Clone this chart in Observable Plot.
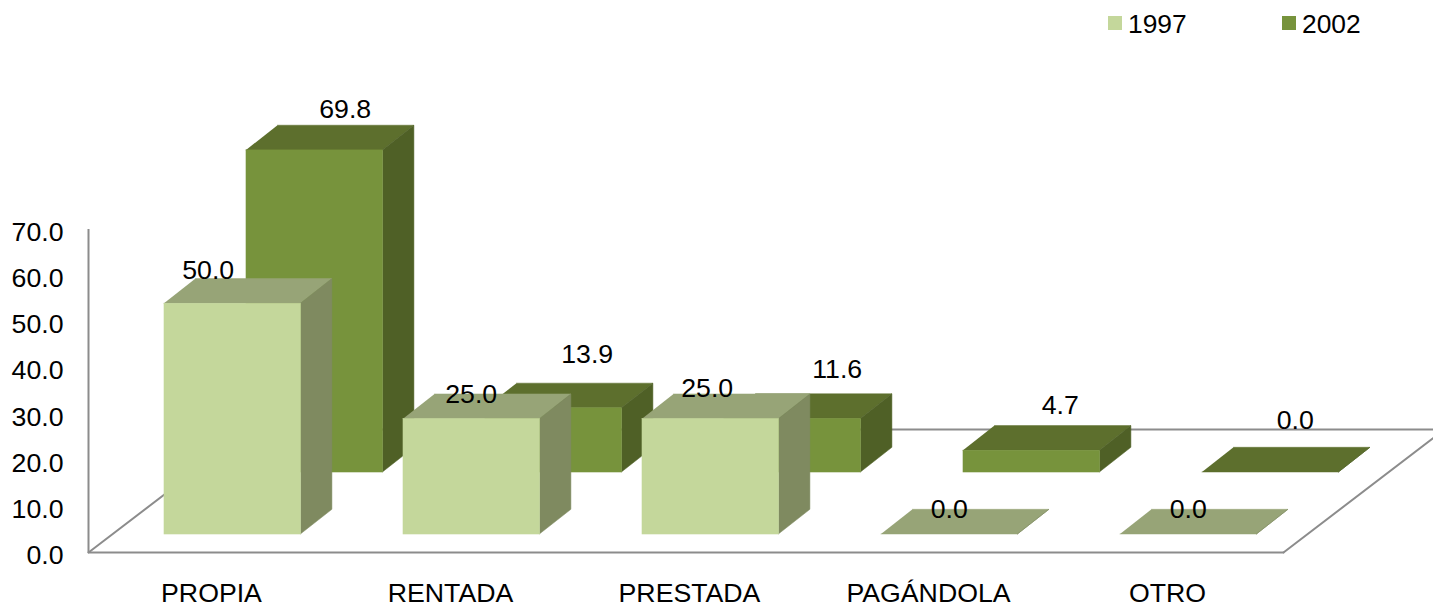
<!DOCTYPE html>
<html><head><meta charset="utf-8">
<script src="https://cdn.jsdelivr.net/npm/d3@7"></script>
<script src="https://cdn.jsdelivr.net/npm/@observablehq/plot@0.6"></script>
<style>
html,body{margin:0;padding:0;background:#fff}
#legend{position:relative;height:48px;width:1433px;font:26.4px "Liberation Sans",Arial,sans-serif;color:#000}
#legend span{position:absolute;line-height:48px;top:0}
#legend i{position:absolute;width:14px;height:14px;top:16px}
svg{display:block}
</style></head><body>
<div id="legend"></div>
<div id="chart"></div>
<script>
const categories = ["PROPIA","RENTADA","PRESTADA","PAGÁNDOLA","OTRO"];
const years = ["1997","2002"];
const values1997 = [50.0,25.0,25.0,0.0,0.0];
const values2002 = [69.8,13.9,11.6,4.7,0.0];
const yTicks = [0,10,20,30,40,50,60,70];

// Projection of the 3D box, in scale units (1 category = 239px, 1 value unit = 4.614px)
const PXX = 1/239, PXY = 1/4.614;
const barInset = 76*PXX, barWidth = 136.4*PXX;
const depthX = 31.5*PXX, depthY = 24.7*PXY;
const floorX = 161*PXX, floorY = 123*PXY;
const labelX = 0.5146;

// Hand-placed data label offsets (px from bar centre / bar top)
const nudgeX1997 = [-24.5,-0.5,-3.5,-0.5,-0.5], nudgeY1997 = [33,25,31,25,25];
const nudgeX2002 = [30.5,33.5,44.5,28.5,24.5], nudgeY2002 = [41,54,50,45,52];

const series = [
  {values:values2002, sx:82*PXX, sy:(18+62)*PXY, nx:nudgeX2002, ny:nudgeY2002, front:"#77933c", top:"#5d6f2d", side:"#4f6026"},
  {values:values1997, sx:0, sy:18*PXY, nx:nudgeX1997, ny:nudgeY1997, front:"#c4d79b", top:"#97a477", side:"#7f8a60"}
];

function boxes(s){
  const fronts=[], tops=[], sides=[];
  s.values.forEach((v,i)=>{
    const x0=i+barInset+s.sx, x1=x0+barWidth, y0=s.sy, y1=s.sy+v;
    fronts.push({x1:x0,x2:x1,y1:y0,y2:y1});
    [[x0,y1],[x1,y1],[x1+depthX,y1+depthY],[x0+depthX,y1+depthY]].forEach(([x,y])=>tops.push({id:i,x,y}));
    [[x1,y0],[x1+depthX,y0+depthY],[x1+depthX,y1+depthY],[x1,y1]].forEach(([x,y])=>sides.push({id:i,x,y}));
  });
  return {fronts,tops,sides};
}
const n = categories.length;
const floorLines = [
  {id:"front",x:0,y:0},{id:"front",x:n,y:0},
  {id:"left",x:0,y:0},{id:"left",x:floorX,y:floorY},
  {id:"back",x:floorX,y:floorY},{id:"back",x:n+floorX,y:floorY},
  {id:"right",x:n,y:0},{id:"right",x:n+floorX,y:floorY}
];
const lineColor="#8c8c8c";
const marks=[
  Plot.line(floorLines,{x:"x",y:"y",z:"id",stroke:lineColor,strokeWidth:2}),
  Plot.ruleX([0],{y1:0,y2:70,stroke:lineColor,strokeWidth:2}),
  Plot.axisY({ticks:yTicks,tickSize:0,tickPadding:25,tickFormat:d=>d.toFixed(1),label:null,dy:3,fill:"#000"}),
  Plot.axisX({ticks:d3.range(n).map(i=>i+labelX),tickSize:0,tickPadding:31,label:null,fill:"#000",
    tickFormat:d=>categories[Math.floor(d)]})
];
series.forEach(s=>{
  const b=boxes(s);
  marks.push(
    Plot.line(b.tops,{x:"x",y:"y",z:"id",fill:s.top,stroke:s.top,strokeWidth:0.5,dx:-0.5,dy:-0.5}),
    Plot.line(b.sides,{x:"x",y:"y",z:"id",fill:s.side,stroke:s.side,strokeWidth:0.5,dx:-0.5,dy:-0.5}),
    Plot.rect(b.fronts,{x1:"x1",x2:"x2",y1:"y1",y2:"y2",fill:s.front,stroke:s.front,strokeWidth:0.6})
  );
});
series.forEach(s=>{
  marks.push(Plot.text(s.values,{
    x:(d,i)=>i+barInset+s.sx+barWidth/2+s.nx[i]*PXX,
    y:(d,i)=>s.sy+d+s.ny[i]*PXY,
    text:d=>d.toFixed(1),fill:"#000",lineAnchor:"middle"
  }));
});
const plot=Plot.plot({
  width:1433,height:557,marginTop:181,marginBottom:53,marginLeft:88,marginRight:150,
  style:{fontFamily:'"Liberation Sans",Arial,sans-serif',fontSize:"26.7px",color:"#000",background:"#fff"},
  x:{type:"linear",domain:[0,n],axis:null},
  y:{type:"linear",domain:[0,70],axis:null},
  marks
});
document.getElementById("chart").append(plot);

const lg=document.getElementById("legend");
[[years[0],"#c4d79b",1108],[years[1],"#77933c",1282]].forEach(([t,c,l])=>{
  const i=document.createElement("i");i.style.left=l+"px";i.style.background=c;lg.append(i);
  const s=document.createElement("span");s.textContent=t;s.style.left=(l+20)+"px";lg.append(s);
});
</script>
</body></html>
